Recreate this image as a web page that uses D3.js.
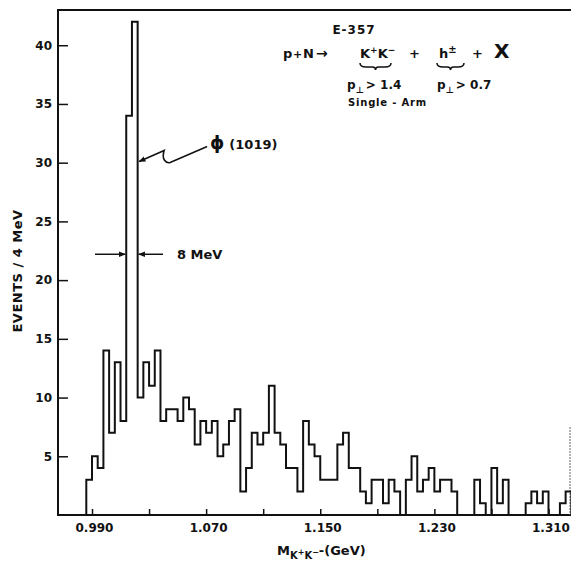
<!DOCTYPE html>
<html>
<head>
<meta charset="utf-8">
<script src="https://cdn.jsdelivr.net/npm/d3@7/dist/d3.min.js"></script>
<style>
  body { margin: 0; background: #fff; }
  svg text { font-family: "DejaVu Sans", sans-serif; font-weight: bold; fill: #111; }
</style>
</head>
<body>
<svg id="chart" width="571" height="563"></svg>
<script>
// histogram: K+K- mass, 4 MeV bins starting at 0.986 GeV
const binStart = 0.986;
const binWidth = 0.004;
const counts = [
  3, 5, 4, 14, 7, 13, 8, 34, 42, 10,
  13, 11, 14, 8, 9, 9, 8, 10, 9, 6,
  8, 7, 8, 5, 6, 8, 9, 2, 4, 7,
  6, 7, 11, 7, 6, 4, 4, 2, 8, 6,
  5, 3, 3, 3, 6, 7, 4, 4, 2, 1,
  3, 3, 1, 3, 2, 0, 3, 5, 2, 3,
  4, 2, 3, 3, 2, 0, 0, 0, 3, 1,
  0, 4, 1, 3, 0, 0, 0, 1, 2, 1,
  2, 0, 0, 1, 2
];
const xTicks = [0.990, 1.030, 1.070, 1.110, 1.150, 1.190, 1.230, 1.270, 1.310];
const xTickLabels = ["0.990", "1.070", "1.150", "1.230", "1.310"];
const yTicks = [5, 10, 15, 20, 25, 30, 35, 40];

const svg = d3.select("#chart");
const INK = "#111";

const FRAME = { left: 58, top: 10, right: 571, bottom: 515 };

const x = d3.scaleLinear().domain([0.990, 1.310]).range([92, 548.5]);
const y = d3.scaleLinear().domain([0, 43]).range([FRAME.bottom, FRAME.top]);

// frame
svg.append("path")
    .attr("d", `M${FRAME.right},${FRAME.top}H${FRAME.left}V${FRAME.bottom}H${FRAME.right}`)
    .attr("fill", "none")
    .attr("stroke", INK)
    .attr("stroke-width", 2);
svg.append("line")
    .attr("x1", 570).attr("x2", 570)
    .attr("y1", 427).attr("y2", FRAME.bottom)
    .attr("stroke", "#666")
    .attr("stroke-width", 1)
    .attr("stroke-dasharray", "2,1");

// axes
const yaxis = d3.axisLeft(y)
    .tickValues(yTicks)
    .tickSize(-10)
    .tickPadding(6)
    .tickFormat(d3.format("d"));
const gy = svg.append("g")
    .attr("transform", `translate(${FRAME.left},0)`)
    .call(yaxis);

const xaxis = d3.axisBottom(x)
    .tickValues(xTicks)
    .tickSize(-6)
    .tickPadding(8)
    .tickFormat(d => {
        const s = d3.format(".3f")(d);
        return xTickLabels.includes(s) ? s : "";
    });
const gx = svg.append("g")
    .attr("transform", `translate(0,${FRAME.bottom})`)
    .call(xaxis);

[gx, gy].forEach(g => {
    g.select(".domain").remove();
    g.selectAll(".tick line").attr("stroke", INK).attr("stroke-width", 1.5);
    g.selectAll(".tick text")
        .attr("font-size", 12)
        .attr("fill", INK)
        .style("font-family", "'DejaVu Sans', sans-serif")
        .style("font-weight", "bold");
});
gx.selectAll(".tick text").attr("dx", 2);

// histogram outline
const pts = [[binStart, 0]];
counts.forEach((c, i) => {
    const x0 = binStart + i * binWidth;
    pts.push([x0, c], [x0 + binWidth, c]);
});
pts.push([binStart + counts.length * binWidth, 0]);

const line = d3.line()
    .x(d => x(d[0]))
    .y(d => y(d[1]));

svg.append("path")
    .datum(pts)
    .attr("fill", "none")
    .attr("stroke", INK)
    .attr("stroke-width", 2)
    .attr("stroke-linejoin", "miter")
    .attr("d", line);

// axis titles
svg.append("text")
    .attr("transform", "translate(22,271) rotate(-90)")
    .attr("text-anchor", "middle")
    .attr("font-size", 13)
    .attr("letter-spacing", 0.5)
    .text("EVENTS / 4 MeV");

const xt = svg.append("text")
    .attr("x", 277)
    .attr("y", 555)
    .attr("font-size", 13);
xt.append("tspan").text("M");
xt.append("tspan").attr("font-size", 10).attr("dy", 4).text("K");
xt.append("tspan").attr("font-size", 8).attr("dy", -4).text("+");
xt.append("tspan").attr("font-size", 10).attr("dy", 4).text("K");
xt.append("tspan").attr("font-size", 8).attr("dy", -4).text("−");
xt.append("tspan").attr("dy", 0).text("-(GeV)");

// arrow marker
const defs = svg.append("defs");
defs.append("marker")
    .attr("id", "head")
    .attr("viewBox", "0 0 10 10")
    .attr("refX", 9).attr("refY", 5)
    .attr("markerWidth", 7).attr("markerHeight", 7)
    .attr("markerUnits", "userSpaceOnUse")
    .attr("orient", "auto")
    .append("path")
    .attr("d", "M0,1L10,5L0,9Z")
    .attr("fill", INK);

// 8 MeV width arrows
const wy = y(22.2);
svg.append("line")
    .attr("x1", 95).attr("x2", x(1.014) - 1)
    .attr("y1", wy).attr("y2", wy)
    .attr("stroke", INK).attr("stroke-width", 1.5)
    .attr("marker-end", "url(#head)");
svg.append("line")
    .attr("x1", 163).attr("x2", x(1.022) + 1)
    .attr("y1", wy).attr("y2", wy)
    .attr("stroke", INK).attr("stroke-width", 1.5)
    .attr("marker-end", "url(#head)");
svg.append("text")
    .attr("x", 177).attr("y", wy + 5)
    .attr("font-size", 13)
    .text("8 MeV");

// phi annotation
const hx = x(1.022) + 1.5, hy = y(30.1);
svg.append("path")
    .attr("d", `M${hx + 68},${hy - 15}L${hx + 31},${hy + 1}C${hx + 27},${hy + 2} ${hx + 22},${hy - 2} ${hx + 25},${hy - 11}L${hx},${hy}`)
    .attr("fill", "none")
    .attr("stroke", INK).attr("stroke-width", 1.6)
    .attr("marker-end", "url(#head)");
const pt = svg.append("text").attr("x", 210).attr("y", 149);
pt.append("tspan").attr("font-size", 18).text("ϕ");
pt.append("tspan").attr("font-size", 13).attr("dx", 5).text("(1019)");

// reaction label
svg.append("text")
    .attr("x", 354).attr("y", 34)
    .attr("text-anchor", "middle")
    .attr("font-size", 12)
    .attr("letter-spacing", 1)
    .text("E-357");

const rx = svg.append("text").attr("y", 58).attr("font-size", 13);
rx.append("tspan").attr("x", 283).text("p");
rx.append("tspan").attr("x", 293).attr("font-size", 11).text("+");
rx.append("tspan").attr("x", 303).text("N");
rx.append("tspan").attr("x", 316).attr("font-size", 14).text("→");
rx.append("tspan").attr("x", 360).text("K");
rx.append("tspan").attr("font-size", 9).attr("dy", -5).text("+");
rx.append("tspan").attr("dy", 5).text("K");
rx.append("tspan").attr("font-size", 9).attr("dy", -5).text("−");
rx.append("tspan").attr("x", 409).attr("dy", 5).text("+");
rx.append("tspan").attr("x", 439).text("h");
rx.append("tspan").attr("font-size", 10).attr("dy", -5).text("±");
rx.append("tspan").attr("x", 472).attr("dy", 5).text("+");
rx.append("tspan").attr("x", 494).attr("font-size", 20).text("X");

const brace = (x0, x1, yb) => {
    const m = (x0 + x1) / 2;
    return `M${x0},${yb}Q${x0},${yb + 4} ${x0 + 6},${yb + 4}L${m - 3},${yb + 4}Q${m},${yb + 4} ${m},${yb + 7}` +
        `Q${m},${yb + 4} ${m + 3},${yb + 4}L${x1 - 6},${yb + 4}Q${x1},${yb + 4} ${x1},${yb}`;
};
[[360, 391], [437, 464]].forEach(([a, b]) => {
    svg.append("path")
        .attr("d", brace(a, b, 63))
        .attr("fill", "none")
        .attr("stroke", INK)
        .attr("stroke-width", 1.5);
});

const cut = (xp, val) => {
    const t = svg.append("text").attr("x", xp).attr("y", 89).attr("font-size", 12);
    t.append("tspan").text("p");
    t.append("tspan").attr("font-size", 9).attr("dy", 4).text("⊥");
    t.append("tspan").attr("dy", -4).attr("dx", 2).text("> " + val);
};
cut(347, "1.4");
cut(437, "0.7");
svg.append("text")
    .attr("x", 348).attr("y", 106)
    .attr("font-size", 10)
    .attr("letter-spacing", 0.8)
    .text("Single - Arm");
</script>
</body>
</html>
